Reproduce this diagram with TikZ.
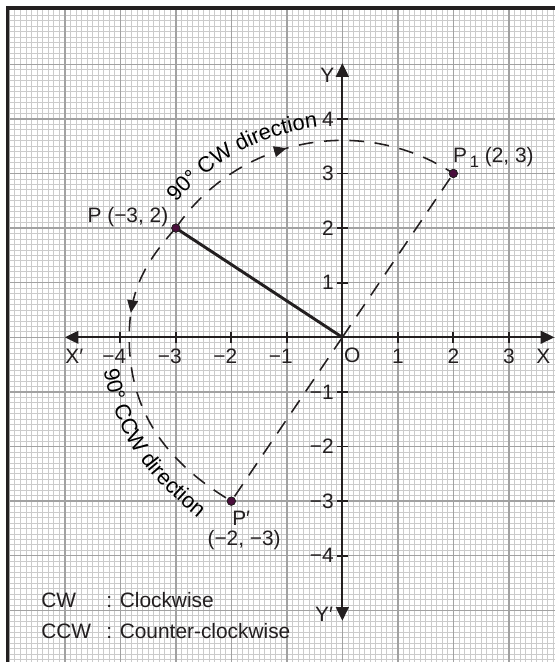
\documentclass[tikz,border=0pt]{standalone}
\usepackage{fontspec}
\setmainfont{Liberation Sans}
\usetikzlibrary{arrows.meta,decorations.markings,decorations.text}
\definecolor{gridmajor}{HTML}{A2A2A2}
\definecolor{gridminor}{HTML}{CBCBCB}
\definecolor{dotfill}{HTML}{4A0E3C}
\definecolor{ink}{HTML}{231F20}
\newcommand\labfont{\fontsize{10.7}{12.8}\selectfont}
\newcommand\arcfont{\fontsize{11.2}{13}\selectfont}
\begin{document}
\begin{tikzpicture}[x=1cm,y=0.984cm,
  font=\labfont, text=ink,
  minorline/.style={gridminor, line width=0.4pt},
  majorline/.style={gridmajor, line width=0.7pt},
  axisline/.style={ink, line width=1.1pt, {Triangle[length=7pt,width=6.5pt]}-{Triangle[length=7pt,width=6.5pt]}},
  tickmark/.style={ink, line width=0.9pt},
  dashline/.style={ink, line width=0.8pt, dash pattern=on 7.5pt off 5.5pt},
  solidline/.style={ink, line width=1.5pt},
  ptdot/.style={circle, fill=dotfill, draw=ink, line width=0.4pt, inner sep=0pt, minimum size=4.2pt},
  lbl/.style={inner sep=0pt},
  arrowmark/.style={postaction={decorate}, decoration={markings, mark=at position #1 with {\arrow{Triangle[length=6.5pt,width=5.5pt]}}}},
  curvetext/.style={decorate, decoration={text along path, text={|\arcfont|#1}, text align=left}}
]
\useasboundingbox (-6.168,-5.945) rectangle (3.832,6.176);
\fill[white] (-6.168,-5.945) rectangle (3.832,6.176);
% graph paper
\foreach \i in {-60,...,38} \draw[minorline] (\i/10,-5.945) -- (\i/10,6);
\foreach \j in {-59,...,60} \draw[minorline] (-6,\j/10) -- (3.832,\j/10);
\foreach \i in {-6,...,3} \draw[majorline] (\i,-5.945) -- (\i,6);
\foreach \j in {-5,...,6} \draw[majorline] (-6,\j) -- (3.832,\j);
\draw[ink, line width=1.6pt] (-6.03,-5.945) -- (-6.03,6.03) -- (3.832,6.03);
% axes
\coordinate (O) at (0,0);
\coordinate (xl) at (-5.0,0);
\coordinate (xr) at (3.82,0);
\coordinate (yt) at (0,5.02);
\coordinate (yb) at (0,-5.19);
\draw[axisline] (xl) -- (xr);
\draw[axisline] (yb) -- (yt);
\foreach \x in {-4,...,-1,1,2,3} \draw[tickmark] (\x,-0.1) -- (\x,0.1);
\foreach \y in {-4,...,-1,1,2,3,4} \draw[tickmark] (-0.1,\y) -- (0.1,\y);
\foreach \x in {1,2,3} \node[lbl] (xp\x) at (\x,-0.34) {\x};
\foreach \x in {1,2,3,4} \node[lbl] (xn\x) at (-\x,-0.34) {\llap{−}\x};
\foreach \y in {1,2,3,4} \node[lbl, anchor=east] (yp\y) at (-0.15,\y) {\y};
\foreach \y in {1,2,3,4} \node[lbl, anchor=east] (yn\y) at (-0.15,-\y) {−\y};
\node[lbl] (Olab) at (0.18,-0.33) {O};
\node[lbl] (Xlab) at (3.62,-0.34) {X};
\node[lbl] (Xplab) at (-4.83,-0.34) {X′};
\node[lbl] (Ylab) at (-0.27,4.8) {Y};
\node[lbl] (Yplab) at (-0.33,-5.08) {Y′};
% points
\node[ptdot] (P) at (-3,2) {};
\node[ptdot] (P1) at (2,3) {};
\node[ptdot] (Pp) at (-2,-3) {};
\coordinate (L) at (-3.84,0);
% segments
\draw[solidline] (P.center) -- (O);
\draw[dashline] (O) -- (P1.center);
\draw[dashline] (O) -- (Pp.center);
\draw[dashline, arrowmark=0.445] (P.center) arc[start angle=146.31, end angle=56.31, radius=3.6056];
\draw[dashline, arrowmark=0.3] (P.center) to[out=228,in=90] (L) to[out=270,in=149] (Pp.center);
% redraw dots on top
\node[ptdot] at (P) {};
\node[ptdot] at (P1) {};
\node[ptdot] at (Pp) {};
% curved texts
\path[curvetext={90° CW direction}] (140.5:3.87) arc[start angle=140.5, end angle=80, radius=3.87];
\path[curvetext={90° CCW direction}] (-4.3,-0.6) .. controls (-4.069,-1.91) and (-3.469,-2.595) .. (-2.4,-3.48);
% labels
\node[lbl, anchor=east] (Plab) at (-3.13,2.2) {P (−3, 2)};
\node[lbl, anchor=west] (P1lab) at (1.99,3.29) {P\raisebox{-0.45ex}{\fontsize{8.5}{9}\selectfont\,1} (2, 3)};
\node[lbl, anchor=west] (Pplab) at (-1.99,-3.31) {P′};
\node[lbl] (Ppcoord) at (-1.77,-3.71) {(−2, −3)};
\node[lbl, anchor=west] (cwk) at (-5.43,-4.81) {CW};
\node[lbl, anchor=west] (cwv) at (-4.26,-4.81) {: Clockwise};
\node[lbl, anchor=west] (ccwk) at (-5.43,-5.38) {CCW};
\node[lbl, anchor=west] (ccwv) at (-4.26,-5.38) {: Counter-clockwise};
\end{tikzpicture}
\end{document}
